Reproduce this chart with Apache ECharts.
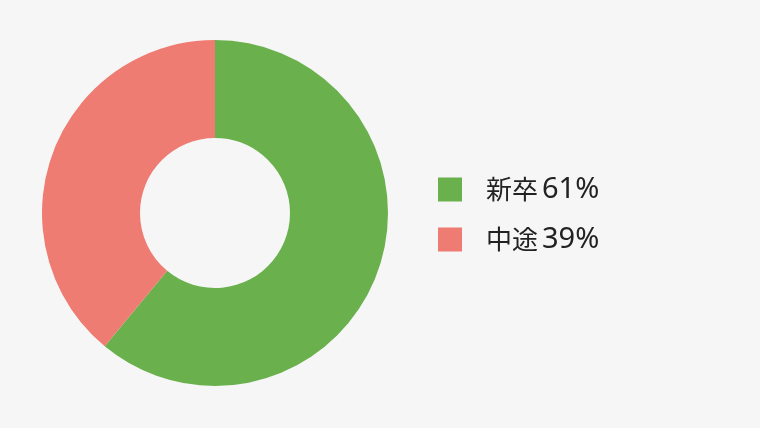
<!DOCTYPE html>
<html lang="ja">
<head>
  <meta charset="UTF-8">
  <title>新卒・中途比率</title>
  <style>
    html, body { margin: 0; padding: 0; background: #f6f6f6; }
  </style>
</head>
<body>
  <div id="main" style="width: 760px;height:428px;"></div>
  <script src="https://cdn.jsdelivr.net/npm/echarts@6/dist/echarts.min.js"></script>
  <script>
    let categories = ['新卒', '中途'];
    let values = [61, 39];
    let colors = ['#6ab14d', '#ef7c72'];

    let pieData = categories.map((name, i) => ({
      name: name,
      value: values[i],
      itemStyle: { color: colors[i] }
    }));

    let chart = echarts.init(document.getElementById('main'));
    let option = {
      backgroundColor: '#f6f6f6',
      animation: false,
      legend: {
        orient: 'vertical',
        left: 438,
        top: 175,
        padding: 0,
        itemWidth: 24,
        itemHeight: 24,
        itemGap: 21,
        icon: 'rect',
        formatter: (name) => {
          let idx = categories.indexOf(name);
          // 名称とパーセントを別スタイルで
          return `{a|${name}}{b|${values[idx]}%}`;
        },
        textStyle: {
          padding: [0, 0, 0, 19],
          rich: {
            a: {
              fontSize: 26,
              lineHeight: 24,
              color: '#222',
              fontFamily: '"Noto Sans CJK JP", sans-serif',
              padding: [0, 4, 0, 0]
            },
            b: {
              fontSize: 29,
              lineHeight: 24,
              color: '#222',
              fontFamily: '"Noto Sans", sans-serif'
            }
          }
        }
      },
      series: [{
        type: 'pie',
        center: [215, 213],
        radius: [75, 173],
        startAngle: 90,
        clockwise: true,
        label: { show: false },
        labelLine: { show: false },
        emphasis: { disabled: true },
        data: pieData
      }]
    };
    chart.setOption(option);
  </script>
</body>
</html>
